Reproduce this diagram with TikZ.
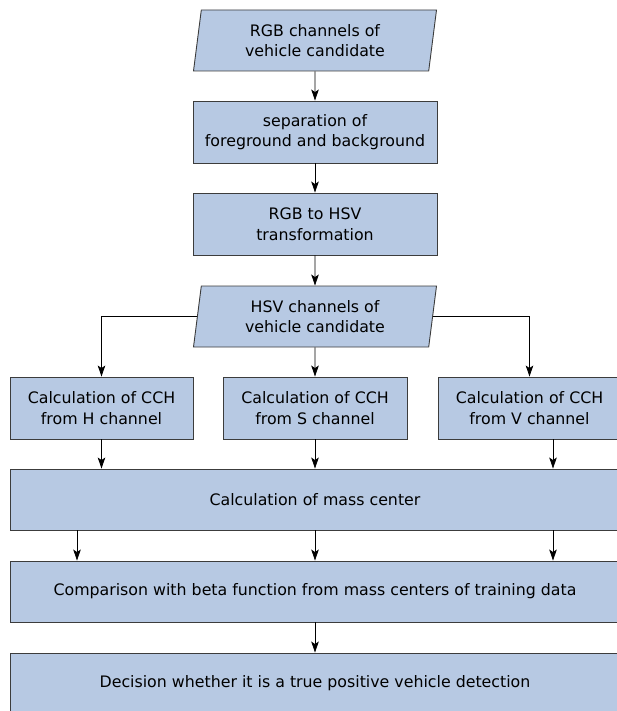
\documentclass[tikz,border=0pt]{standalone}
\usepackage{fontspec}
\setmainfont{DejaVu Sans}
\usetikzlibrary{shapes.geometric, arrows.meta}

\definecolor{boxfill}{RGB}{183,201,227}
\definecolor{boxline}{RGB}{60,60,60}

\tikzset{
  stepbox/.style={rectangle, draw=boxline, fill=boxfill, line width=0.9pt,
    align=center, inner sep=2pt, font=\fontsize{15.8}{20.5}\selectfont},
  iobox/.style={trapezium, trapezium left angle=78, trapezium right angle=102,
    trapezium stretches body, draw=boxline, fill=boxfill, line width=0.9pt,
    align=center, inner sep=2pt, font=\fontsize{15.8}{20.5}\selectfont},
  flow/.style={-{Stealth[length=11pt,width=7.5pt,inset=2.5pt]}, line width=0.8pt, black}
}

\begin{document}
\begin{tikzpicture}[x=1pt, y=-1pt]
\useasboundingbox (0,0) rectangle (617,711);
\clip (0,0) rectangle (617,711);

\node[iobox, minimum width=243pt, minimum height=61pt] (rgbin) at (315,40.5) {RGB channels of\\vehicle candidate};
\node[stepbox, minimum width=244pt, minimum height=62pt] (sep) at (315,132) {separation of\\foreground and background};
\node[stepbox, minimum width=244pt, minimum height=62pt] (trans) at (315,224) {RGB to HSV\\transformation};
\node[iobox, minimum width=243pt, minimum height=61pt] (hsvin) at (315,316.5) {HSV channels of\\vehicle candidate};

\node[stepbox, minimum width=183pt, minimum height=62pt] (cchH) at (101.5,408) {Calculation of CCH\\from H channel};
\node[stepbox, minimum width=184pt, minimum height=62pt] (cchS) at (315,408) {Calculation of CCH\\from S channel};
\node[stepbox, minimum width=183pt, minimum height=62pt] (cchV) at (529.5,408) {Calculation of CCH\\from V channel};

\node[stepbox, minimum width=610pt, minimum height=61pt] (mass) at (315,499.5) {Calculation of mass center};
\node[stepbox, minimum width=610pt, minimum height=61pt] (comp) at (315,591.5) {Comparison with beta function from mass centers of training data};
\node[stepbox, minimum width=610pt, minimum height=61pt] (dec) at (315,683.5) {Decision whether it is a true positive vehicle detection};

% columns of the arrows between the wide boxes
\coordinate (colL) at (77,0);
\coordinate (colR) at (553,0);

\draw[flow] (rgbin) -- (sep);
\draw[flow] (sep) -- (trans);
\draw[flow] (trans) -- (hsvin);

\draw[flow] (hsvin.west) -| (cchH.north);
\draw[flow] (hsvin) -- (cchS);
\draw[flow] (hsvin.east) -| (cchV.north);

\draw[flow] (cchH.south) -- (cchH.south |- mass.north);
\draw[flow] (cchS) -- (mass);
\draw[flow] (cchV.south -| colR) -- (mass.north -| colR);

\draw[flow] (mass.south -| colL) -- (comp.north -| colL);
\draw[flow] (mass) -- (comp);
\draw[flow] (mass.south -| colR) -- (comp.north -| colR);

\draw[flow] (comp) -- (dec);

\end{tikzpicture}
\end{document}
